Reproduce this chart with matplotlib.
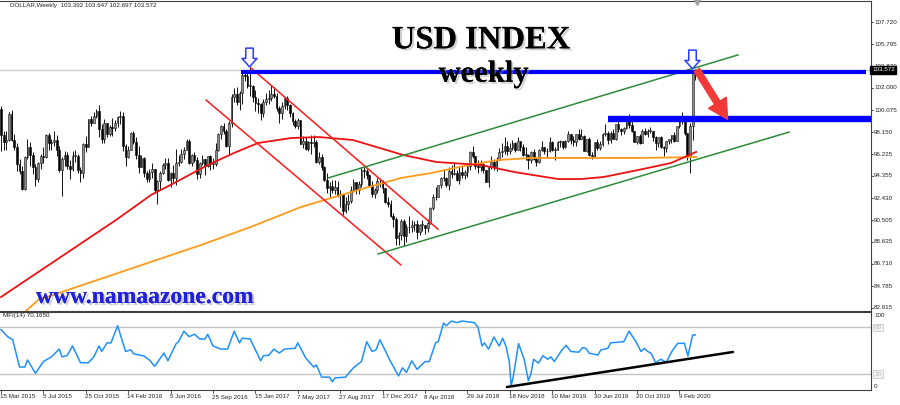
import numpy as np
import matplotlib
matplotlib.use("Agg")
import matplotlib.pyplot as plt
from matplotlib.path import Path
from matplotlib.patches import FancyArrowPatch
import matplotlib.patheffects as pe
import matplotlib.transforms as mtransforms

plt.rcParams['font.family'] = ['Liberation Sans', 'DejaVu Sans']

# ---------------- data (weekly bars, 15 Mar 2015 .. 22 Mar 2020) ----------------
first_open = 100.2
close = [
    97.9, 97.3, 97.5, 99.7, 97.5, 96.9, 95.4, 94.8, 93.2, 96.0,
    96.9, 96.2, 95.1, 94.1, 95.5, 96.1, 96.0, 97.9, 97.2, 97.3,
    97.5, 96.6, 94.9, 95.8, 96.2, 95.2, 95.0, 96.1, 96.1, 94.9,
    94.6, 97.1, 96.9, 99.3, 99.0, 99.6, 100.0, 98.4, 97.6, 99.0,
    98.0, 98.6, 98.5, 99.0, 99.5, 99.6, 97.0, 96.0, 96.6, 98.1,
    97.3, 96.2, 95.1, 95.9, 94.6, 94.1, 94.7, 95.0, 93.1, 93.9,
    94.6, 95.3, 95.5, 94.0, 94.6, 94.2, 95.5, 95.6, 96.3, 96.6,
    97.4, 95.5, 96.2, 95.7, 94.5, 95.5, 95.8, 95.2, 96.1, 95.4,
    95.4, 96.6, 98.0, 98.7, 98.3, 97.0, 99.0, 101.2, 101.5, 100.8,
    101.6, 103.1, 103.0, 102.2, 102.2, 101.2, 100.7, 100.6, 99.8, 100.8,
    101.0, 101.1, 101.5, 101.3, 100.3, 99.8, 100.4, 101.1, 100.5, 99.8,
    99.1, 98.7, 99.2, 97.1, 97.4, 96.7, 97.3, 97.2, 97.3, 95.6,
    96.0, 95.1, 94.0, 93.3, 93.5, 93.1, 93.4, 92.7, 92.8, 91.3,
    91.9, 92.2, 93.1, 93.8, 93.1, 93.7, 94.9, 94.8, 94.4, 93.6,
    92.8, 93.1, 93.9, 93.9, 93.3, 92.1, 91.9, 90.9, 90.6, 89.0,
    89.2, 90.4, 89.1, 89.9, 89.9, 90.1, 90.2, 89.5, 90.1, 90.1,
    89.8, 90.3, 91.6, 92.5, 92.5, 93.6, 94.2, 94.2, 93.6, 94.8,
    94.5, 94.6, 94.0, 94.7, 94.4, 94.7, 95.2, 96.4, 96.1, 95.2,
    95.1, 95.4, 94.9, 93.8, 95.1, 95.6, 95.1, 95.7, 96.4, 96.5,
    97.0, 96.5, 96.8, 97.2, 96.6, 97.4, 96.9, 96.2, 96.2, 95.7,
    96.4, 95.8, 95.6, 96.6, 96.9, 96.5, 96.5, 97.3, 96.6, 96.6,
    97.3, 97.4, 96.9, 97.4, 98.0, 97.5, 97.3, 98.0, 97.6, 97.8,
    96.5, 97.6, 96.2, 96.1, 97.3, 96.8, 97.1, 98.0, 98.1, 97.5,
    98.1, 97.6, 98.9, 98.4, 98.3, 98.5, 99.1, 98.8, 98.3, 97.3,
    97.8, 97.2, 98.3, 98.0, 98.3, 98.3, 97.7, 97.2, 97.7, 96.9,
    96.8, 97.4, 97.6, 97.9, 97.4, 98.7, 99.1, 99.3, 98.1, 96.0,
    98.7, 103.392, 103.572]
high = [
    100.4, 98.3, 98.3, 99.9, 100.1, 98.0, 97.2, 95.8, 95.2, 96.1,
    97.6, 97.3, 96.4, 95.4, 95.6, 96.3, 96.9, 98.0, 98.1, 97.6,
    98.3, 97.9, 97.0, 96.0, 96.5, 96.4, 95.7, 96.5, 96.6, 96.3,
    95.1, 97.2, 97.8, 99.3, 99.6, 99.9, 100.2, 100.5, 98.9, 99.3,
    99.0, 98.8, 99.4, 99.2, 99.6, 100.0, 99.9, 97.1, 97.0, 98.2,
    98.3, 97.7, 97.0, 96.2, 96.0, 94.8, 95.0, 95.5, 95.0, 94.0,
    94.8, 95.5, 95.9, 95.9, 94.7, 95.3, 96.7, 96.2, 96.7, 96.9,
    97.6, 97.6, 96.3, 96.4, 96.0, 95.6, 96.2, 95.8, 96.1, 96.2,
    95.9, 97.2, 98.1, 98.8, 99.0, 98.4, 99.1, 101.5, 102.0, 102.1,
    101.7, 103.6, 103.5, 103.4, 103.8, 102.3, 101.8, 101.1, 100.7, 101.0,
    101.6, 101.8, 102.3, 102.1, 101.6, 100.4, 100.8, 101.2, 101.3, 100.6,
    99.9, 99.3, 99.4, 99.2, 97.8, 97.7, 97.4, 97.9, 97.9, 97.5,
    96.4, 96.3, 95.2, 94.6, 93.8, 94.0, 94.0, 93.9, 93.1, 92.8,
    92.5, 92.8, 93.5, 94.1, 93.8, 93.9, 95.1, 95.2, 95.0, 94.5,
    93.9, 93.3, 94.2, 94.2, 94.0, 93.3, 92.5, 92.3, 91.1, 90.8,
    89.5, 90.6, 90.6, 90.2, 90.9, 90.5, 90.4, 90.5, 90.2, 90.5,
    90.1, 90.6, 91.7, 92.8, 93.4, 93.6, 94.3, 95.0, 94.3, 95.1,
    95.3, 95.5, 94.9, 95.1, 95.2, 94.9, 95.3, 96.5, 97.0, 96.1,
    95.7, 95.7, 95.5, 94.9, 95.1, 96.1, 95.8, 96.0, 96.8, 97.2,
    97.7, 97.4, 97.2, 97.5, 97.3, 97.7, 97.4, 97.1, 96.9, 96.3,
    96.5, 96.7, 96.0, 96.7, 97.4, 96.9, 96.8, 97.7, 97.4, 96.9,
    97.4, 97.5, 97.4, 97.5, 98.3, 98.0, 97.8, 98.0, 98.4, 98.4,
    97.9, 97.6, 97.7, 96.4, 97.3, 97.6, 97.4, 98.1, 98.9, 98.3,
    98.3, 98.4, 98.9, 99.4, 98.5, 98.6, 99.4, 99.7, 99.2, 98.3,
    97.8, 98.0, 98.4, 98.5, 98.4, 98.6, 98.3, 97.8, 97.7, 97.8,
    97.0, 97.4, 97.6, 97.9, 98.2, 98.7, 99.2, 99.9, 99.4, 98.1,
    99.0, 103.6, 103.647]
low = [
    96.5, 96.6, 96.6, 97.4, 97.4, 96.6, 94.8, 94.5, 93.1, 93.1,
    95.8, 95.2, 94.5, 93.5, 93.8, 95.0, 95.5, 95.9, 96.6, 96.6,
    97.0, 96.1, 94.7, 92.6, 95.2, 95.0, 94.1, 94.8, 95.6, 94.6,
    93.8, 94.2, 96.4, 96.9, 98.7, 99.0, 99.4, 97.7, 97.2, 97.2,
    97.7, 97.8, 97.8, 98.3, 98.6, 98.9, 96.5, 95.2, 95.9, 96.6,
    97.1, 95.8, 94.6, 95.1, 94.3, 93.8, 93.8, 94.2, 92.9, 91.9,
    93.1, 94.5, 95.0, 93.9, 93.4, 93.8, 93.6, 95.2, 95.5, 95.8,
    96.6, 95.4, 95.2, 95.6, 94.1, 94.2, 95.3, 94.4, 95.1, 94.9,
    95.0, 95.2, 96.5, 97.6, 98.0, 96.9, 96.2, 98.6, 100.8, 100.5,
    100.1, 100.6, 102.6, 102.0, 101.3, 100.8, 100.0, 99.8, 99.2, 99.5,
    100.5, 100.6, 100.9, 101.1, 100.0, 99.0, 99.3, 100.2, 100.1, 99.5,
    98.8, 98.5, 98.4, 97.1, 96.8, 96.6, 96.5, 96.3, 96.9, 95.5,
    95.4, 94.9, 93.9, 92.9, 92.5, 92.9, 92.8, 92.5, 91.7, 91.0,
    91.1, 91.4, 92.0, 93.0, 92.8, 92.8, 93.4, 94.2, 94.1, 93.5,
    92.5, 92.4, 92.9, 93.4, 92.9, 92.0, 91.7, 90.8, 89.9, 88.4,
    88.4, 88.8, 88.3, 88.6, 89.4, 89.5, 89.6, 88.9, 89.2, 89.6,
    89.3, 89.5, 90.2, 91.4, 92.3, 92.5, 93.3, 93.9, 93.4, 93.1,
    94.2, 94.4, 93.9, 93.7, 94.2, 94.1, 94.3, 94.9, 95.9, 95.0,
    94.6, 94.8, 94.6, 93.8, 93.4, 95.0, 94.9, 94.8, 95.7, 96.0,
    96.3, 96.2, 96.3, 96.6, 96.4, 96.6, 96.5, 96.1, 95.7, 95.0,
    95.5, 95.7, 95.2, 95.5, 96.5, 96.3, 96.0, 96.4, 96.5, 95.7,
    96.6, 96.9, 96.7, 96.8, 97.3, 97.1, 97.0, 97.0, 97.5, 97.6,
    96.5, 96.4, 96.1, 95.8, 96.0, 96.6, 96.6, 97.0, 97.8, 97.1,
    97.2, 97.6, 97.5, 98.2, 97.9, 98.0, 98.4, 98.5, 98.2, 97.3,
    97.1, 97.1, 97.2, 97.9, 97.7, 98.1, 97.4, 96.6, 96.9, 96.8,
    96.1, 96.4, 97.1, 97.2, 97.3, 97.4, 98.5, 98.9, 97.9, 95.7,
    94.6, 97.5, 102.697]

# moving averages (red = MA100, orange = MA200), vertices
ma_red_idx = [0, 43.4, 56.6, 65.3, 78.1, 87.9, 97.0, 109.4, 120, 132.8, 151.7,
              164.2, 181.1, 193.6, 210.2, 218.9, 227.5, 240.4, 252.8, 262.3]
ma_red_val = [83.84, 90.53, 92.70, 93.74, 95.31, 96.35, 97.22, 97.65, 97.74, 97.48,
              96.18, 95.57, 95.31, 94.70, 94.09, 94.09, 94.27, 94.87, 95.48, 96.44]
ma_org_idx = [9.4, 14.0, 75.5, 94.3, 113.2, 132.1, 150.9, 162.3, 174.7, 187.5,
              200, 218.9, 241.5, 262.3]
ma_org_val = [82.62, 83.58, 88.36, 89.93, 91.66, 92.96, 94.18, 94.61, 95.22, 95.74,
              95.92, 95.92, 95.92, 96.0]

# MFI(14) line
mfi_idx = [0, 2.5, 4.4, 7, 9, 10, 13, 16, 19, 22, 23, 25, 27, 30, 33, 35, 37, 38, 40, 41.5,
           44, 47, 49, 50, 54, 56, 58, 61.5, 63, 66, 67, 69, 71, 73, 75, 77, 78, 80, 83, 85.5,
           88, 90, 91, 94, 98, 99, 101, 103, 105, 107, 111, 112, 115, 118, 119, 121, 124, 125,
           126, 130, 133, 136, 138, 140, 141.5, 143, 147, 150, 151.5, 153, 155, 157, 160,
           161.6, 164, 165, 167, 168, 170, 172, 174, 178.6, 180, 181.5, 182.4, 184, 186, 188,
           189.3, 190.6, 191.8, 192.5, 193.3, 195.3, 197.5, 199, 200, 201, 202.8, 204.5,
           206.3, 207.5, 208.8, 211.3, 213.2, 215, 218, 219.5, 220.7, 222, 225.2, 226.4, 229,
           230, 235, 237, 239.6, 241.5, 242.8, 244, 245.3, 247, 249, 251, 253.5, 255.4,
           257.9, 259.2, 261, 262]
mfi_val = [77, 68, 64, 29, 29, 38, 21, 36, 42, 52, 42, 44, 56, 34.5, 34.5, 42, 56, 49, 60, 60,
           82, 49, 51, 46, 43, 38, 30, 47, 37, 58.5, 61.5, 75, 68, 71, 65, 65, 71, 56, 52, 52,
           75, 60, 66, 65, 37, 43.5, 44, 52, 47, 52, 53, 60, 40.5, 29, 31.6, 16, 16, 10,
           15, 16, 28, 36, 61.5, 49, 51, 64, 36, 17.5, 28, 22, 37, 26, 36,
           36, 60, 61.5, 85.5, 82, 88, 86, 88, 86, 80, 56, 60, 52, 67.5, 56,
           66, 55, 36, 4.6, 16.6, 59, 38, 11.4, 21, 39, 34, 43.5,
           39, 42, 36, 49, 57, 49, 48, 54, 53, 46.6, 44.4, 51, 53,
           60, 61.5, 75, 61.5, 49, 53, 49, 46.6, 34.5, 39, 35, 51, 59.4,
           59.4, 43, 70, 70.2]
mfi_levels = [80, 20]

# x-axis date labels (every 16 bars)
date_labels = ["15 Mar 2015", "5 Jul 2015", "25 Oct 2015", "14 Feb 2016", "5 Jun 2016",
               "25 Sep 2016", "15 Jan 2017", "7 May 2017", "27 Aug 2017", "17 Dec 2017",
               "8 Apr 2018", "29 Jul 2018", "18 Nov 2018", "10 Mar 2019", "30 Jun 2019",
               "20 Oct 2019", "9 Feb 2020"]
price_ticks = [107.720, 105.795, 103.870, 102.000, 100.075, 98.150, 96.225, 94.355,
               92.430, 90.505, 88.635, 86.710, 84.785, 82.915]
last_price = 103.572

# drawn objects (bar index, price)
red_upper = ([94.3, 164.9], [103.74, 89.73])
red_lower = ([77.4, 150.9], [100.95, 86.63])
green_upper = ([123.4, 278.1], [94.18, 104.87])
green_lower = ([142.3, 297.4], [87.58, 98.17])
blue_res1 = ([90.6, 326.4], [103.39, 103.39])
blue_res2 = ([229.0, 330.0], [99.34, 99.34])
mfi_trend = ([190.9, 276.2], [3.3, 48.3])
down_arrows = ([93.6, 260.8], [104.69, 104.52])
red_arrow = ((262.6, 103.56), (274.2, 99.28))

# ---------------- figure ----------------
W, H = 900, 405
fig = plt.figure(figsize=(9, 4.05), dpi=100)
fig.patch.set_facecolor('white')

def fpos(x0, y0, x1, y1):
    return [x0 / W, 1 - y1 / H, (x1 - x0) / W, (y1 - y0) / H]

ax = fig.add_axes(fpos(0, 0.5, 871, 310.7))
axm = fig.add_axes(fpos(0, 311.7, 871, 389.6))
XLIM = (-0.377, 328.3)
for a in (ax, axm):
    a.set_xlim(*XLIM)
    a.set_xticks([])
    a.set_yticks([])
    for s in a.spines.values():
        s.set_color('#404040')
        s.set_linewidth(0.8)
    a.spines['left'].set_visible(False)
ax.set_ylim(82.65, 109.60)
axm.set_ylim(0, 100)

C = np.array(close)
Hh = np.array(high)
Ll = np.array(low)
n = len(C)
idx = np.arange(n)
O = np.r_[first_open, C[:-1]]
O[-1] = 103.392
Hh = np.maximum(Hh, np.maximum(O, C))
Ll = np.minimum(Ll, np.minimum(O, C))
up = C >= O

# bid line
ax.axhline(last_price, color='#cfcfcf', lw=1.0, zorder=1)

ax.vlines(idx, Ll, Hh, color='#111111', lw=0.7, zorder=2)
body = np.maximum(np.abs(C - O), 0.06)
ax.bar(idx[up], body[up], bottom=O[up], width=0.66, color='#8e8e8e',
       edgecolor='#111111', lw=0.4, zorder=3)
ax.bar(idx[~up], body[~up], bottom=C[~up], width=0.66, color='black',
       edgecolor='black', lw=0.4, zorder=3)

# moving averages
ax.plot(ma_org_idx, ma_org_val, color='#ff9a1a', lw=1.3, zorder=4)
ax.plot(ma_red_idx, ma_red_val, color='#ee1111', lw=1.3, zorder=4)

# channels
for xs, ys in (red_upper, red_lower):
    ax.plot(xs, ys, color='#ff1a1a', lw=1.1, zorder=5)
for xs, ys in (green_upper, green_lower):
    ax.plot(xs, ys, color='#2e8b3a', lw=1.1, zorder=5)

# blue resistance lines
ax.plot(*blue_res1, color='#0000ff', lw=3.0, solid_capstyle='butt', zorder=6)
ax.plot(*blue_res2, color='#0000ff', lw=4.6, solid_capstyle='butt', zorder=6)

# hollow down arrows
arrow_path = Path([(-0.2, 0.5), (0.2, 0.5), (0.2, -0.05), (0.4, -0.05), (0.0, -0.5),
                   (-0.4, -0.05), (-0.2, -0.05), (-0.2, 0.5)],
                  [Path.MOVETO] + [Path.LINETO] * 6 + [Path.CLOSEPOLY])
ax.plot(*down_arrows, ls='none', marker=arrow_path, ms=13.5, mfc='white',
        mec='#2a3cff', mew=1.1, zorder=8, clip_on=False)

# red arrow
fa = FancyArrowPatch(red_arrow[0], red_arrow[1],
                     arrowstyle='simple,head_length=14,head_width=15,tail_width=4.5',
                     color='#f03a3a', shrinkA=0, shrinkB=0, zorder=8, mutation_scale=1)
ax.add_patch(fa)

# chart-shift marker
ax.plot([262.6], [109.45], marker='v', ms=4, color='#a0a0a0', clip_on=False, zorder=9)

# price axis labels
tr_p = mtransforms.blended_transform_factory(fig.transFigure, ax.transData)
for v in price_ticks:
    ax.text(874 / W, v, f"{v:.3f}", transform=tr_p, fontsize=4.5, color='#222222',
            va='center', ha='left', clip_on=False)
    ax.plot([871 / W, 873 / W], [v, v], transform=tr_p, color='#404040', lw=0.6,
            clip_on=False)
ax.text(872 / W, last_price, f"{last_price:.3f}", transform=tr_p, fontsize=4.5,
        color='white', va='center', ha='left', clip_on=False, zorder=10,
        bbox=dict(boxstyle='square,pad=0.25', fc='black', ec='black'))

# MFI panel
axm.plot(mfi_idx, mfi_val, color='#1e90ff', lw=1.1, zorder=3)
for lv in mfi_levels:
    axm.axhline(lv, color='#c4c4c4', lw=1.0, zorder=1)
axm.plot(*mfi_trend, color='black', lw=1.8, solid_capstyle='round', zorder=4)
tr_m = mtransforms.blended_transform_factory(fig.transFigure, axm.transData)
axm.text(874 / W, 95.5, "100", transform=tr_m, fontsize=4.5, color='#222222',
         va='center', ha='left', clip_on=False)
axm.text(874 / W, 4.5, "0", transform=tr_m, fontsize=4.5, color='#222222',
         va='center', ha='left', clip_on=False)
for lv in mfi_levels:
    axm.text(874.5 / W, lv, str(lv), transform=tr_m, fontsize=4.5, color='#bdbdbd',
             va='center', ha='left', clip_on=False,
             bbox=dict(boxstyle='square,pad=0.2', fc='#f2f2f2', ec='#c8c8c8', lw=0.6))
fig.text(3 / W, 1 - 316 / H, "MFI(14) 70.1650", fontsize=4.5, color='#222222',
         va='center', ha='left')

# date labels
tr_d = mtransforms.blended_transform_factory(axm.transData, fig.transFigure)
for k, lab in enumerate(date_labels):
    xi = 16 * k
    axm.text(xi - 0.3, 1 - 397 / H, lab, transform=tr_d, fontsize=4.5,
             color='#222222', va='center', ha='left', clip_on=False)
    axm.plot([xi, xi], [1 - 390 / H, 1 - 392.5 / H], transform=tr_d, color='#404040',
             lw=0.6, clip_on=False)

# header
fig.text(10 / W, 1 - 5.5 / H, "DOLLAR,Weekly  103.392 103.647 102.697 103.572",
         fontsize=4.5, color='#222222', va='center', ha='left')

# titles
shadow = [pe.withSimplePatchShadow(offset=(1.5, -1.5), shadow_rgbFace='#999999', alpha=0.45),
          pe.Normal()]
fig.text(481 / W, 1 - 48.3 / H, "USD INDEX", fontsize=23.5, family='Liberation Serif',
         weight='bold', color='black', ha='center', va='baseline', path_effects=shadow,
         zorder=20)
fig.text(483.5 / W, 1 - 81.7 / H, "weekly", fontsize=22, family='Liberation Serif',
         weight='bold', color='black', ha='center', va='baseline', path_effects=shadow,
         zorder=20)
fig.text(145 / W, 1 - 303 / H, "www.namaazone.com", fontsize=17, family='Liberation Serif',
         weight='bold', color='#2020dd', ha='center', va='baseline', path_effects=shadow,
         zorder=20)

fig.savefig("out.png", dpi=100, facecolor='white')
